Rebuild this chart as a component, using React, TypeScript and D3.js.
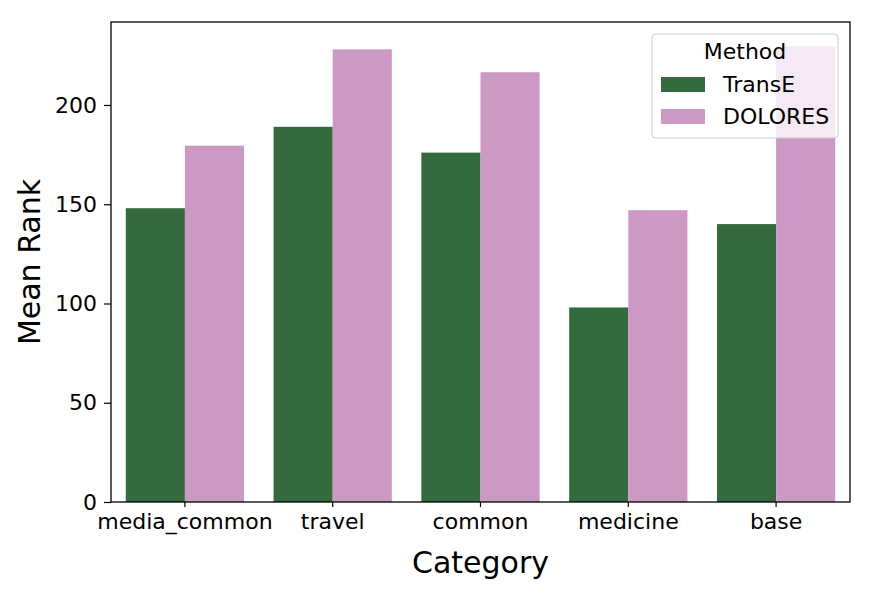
import React, { useEffect, useRef } from 'react';
import * as d3 from 'd3';

const categories = ['media_common', 'travel', 'common', 'medicine', 'base'];
const methods = ['TransE', 'DOLORES'];
const transE = [148, 189, 176, 98, 140];
const dolores = [179.5, 228, 216.5, 147, 229.5];
const yTicks = [0, 50, 100, 150, 200];
const colors = ['#356a3e', '#cc98c4'];

const W = 873;
const H = 594;
const margin = { top: 22, right: 23, bottom: 92, left: 111 };

export default function App() {
  const svgRef = useRef<SVGSVGElement>(null);

  useEffect(() => {
    if (!svgRef.current) return;
    d3.select(svgRef.current).selectAll('*').remove();

    const innerWidth = W - margin.left - margin.right;
    const innerHeight = H - margin.top - margin.bottom;
    const font = 'DejaVu Sans, sans-serif';

    const svg = d3.select(svgRef.current)
      .attr('width', W)
      .attr('height', H)
      .append('g')
      .attr('transform', `translate(${margin.left},${margin.top})`);

    const x = d3.scaleBand().domain(categories).range([0, innerWidth]).padding(0);
    const xSub = d3.scaleBand().domain(methods).range([x.bandwidth() * 0.1, x.bandwidth() * 0.9]);
    const y = d3.scaleLinear().domain([0, 241.8]).range([innerHeight, 0]);

    const series = [transE, dolores];

    // Bars
    methods.forEach((m, mi) => {
      svg.append('g')
        .selectAll('rect')
        .data(categories)
        .join('rect')
        .attr('x', (c) => (x(c) as number) + (xSub(m) as number))
        .attr('y', (_, i) => y(series[mi][i]))
        .attr('width', xSub.bandwidth())
        .attr('height', (_, i) => y(0) - y(series[mi][i]))
        .attr('fill', colors[mi]);
    });

    // Axes
    const xAxis = svg.append('g')
      .attr('transform', `translate(0,${innerHeight})`)
      .call(d3.axisBottom(x).tickSize(5).tickSizeOuter(0));
    xAxis.select('.domain').remove();
    xAxis.selectAll('line').attr('stroke', '#000').attr('stroke-width', 1.2);
    xAxis.selectAll('text')
      .attr('font-family', font)
      .attr('font-size', '22px')
      .attr('fill', '#000')
      .attr('y', 10)
      .attr('dy', '0.78em');

    const yAxis = svg.append('g')
      .call(d3.axisLeft(y).tickValues(yTicks).tickSize(7).tickSizeOuter(0));
    yAxis.select('.domain').remove();
    yAxis.selectAll('line').attr('stroke', '#000').attr('stroke-width', 1.2);
    yAxis.selectAll('text')
      .attr('font-family', font)
      .attr('font-size', '22px')
      .attr('fill', '#000')
      .attr('x', -14);

    // Frame
    svg.append('rect')
      .attr('width', innerWidth)
      .attr('height', innerHeight)
      .attr('fill', 'none')
      .attr('stroke', '#000')
      .attr('stroke-width', 1.3);

    // Axis labels
    svg.append('text')
      .attr('x', innerWidth / 2)
      .attr('y', innerHeight + 71)
      .attr('text-anchor', 'middle')
      .attr('font-family', font)
      .attr('font-size', '30px')
      .text('Category');

    svg.append('text')
      .attr('transform', `translate(${-71},${innerHeight / 2}) rotate(-90)`)
      .attr('text-anchor', 'middle')
      .attr('font-family', font)
      .attr('font-size', '30px')
      .text('Mean Rank');

    // Legend
    const lg = svg.append('g').attr('transform', `translate(${652 - margin.left},${34 - margin.top})`);
    lg.append('rect')
      .attr('width', 186)
      .attr('height', 104)
      .attr('rx', 4)
      .attr('fill', 'rgba(255,255,255,0.8)')
      .attr('stroke', '#ccc')
      .attr('stroke-width', 1);
    lg.append('text')
      .attr('x', 93)
      .attr('y', 25)
      .attr('text-anchor', 'middle')
      .attr('font-family', font)
      .attr('font-size', '22px')
      .text('Method');
    methods.forEach((m, i) => {
      lg.append('rect')
        .attr('x', 9)
        .attr('y', 43 + i * 32)
        .attr('width', 44)
        .attr('height', 15)
        .attr('fill', colors[i]);
      lg.append('text')
        .attr('x', 71)
        .attr('y', 58 + i * 32)
        .attr('font-family', font)
        .attr('font-size', '22px')
        .text(m);
    });
  }, []);

  return <svg ref={svgRef} style={{ position: 'absolute', left: 0, top: 0, background: '#fff' }} />;
}
